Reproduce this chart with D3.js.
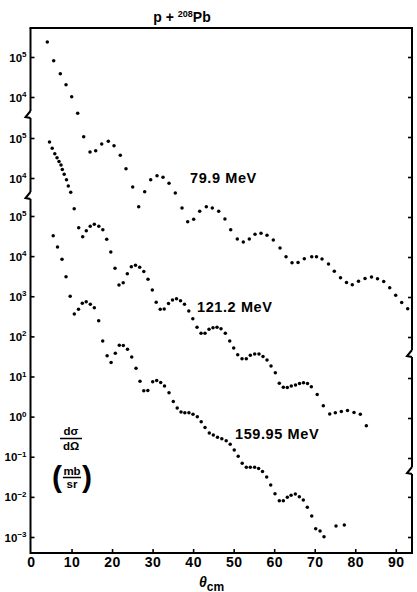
<!DOCTYPE html>
<html><head><meta charset="utf-8">
<script src="https://cdn.jsdelivr.net/npm/d3@7"></script>
<style>
body{margin:0;background:#fff}
svg{display:block}
text{font-family:"Liberation Sans",Arial,sans-serif;font-weight:bold;fill:#000}
</style>
</head><body>
<svg id="c" width="417" height="592"></svg>
<script>
// ---- data ----
const theta799 = [4.02,5.60,7.23,8.64,10.04,11.52,13.00,14.56,15.96,17.44,19.07,20.48,22.03,23.44,25.09,26.57,28.05,29.53,31.09,32.57,34.05,35.60,37.26,38.66,40.14,41.62,43.25,44.73,46.31,47.85,49.27,50.90,52.38,53.86,55.27,56.75,58.23,59.78,61.44,62.92,64.40,65.88,67.43,69.26,70.44,71.80,73.40,74.83,76.36,77.84,79.27,80.80,82.41,84.01,85.49,87.02,88.50,89.98,91.46,92.94];
const sigma799 = [2.37e5,8.08e4,3.82e4,2.03e4,1.02e4,3.91e3,1.02e3,422,455,668,781,606,349,161,56.2,18.1,42.9,85.6,108,98.3,69.6,39.8,16.8,7.63,8.76,13.9,18.1,16.8,13.9,8.91,4.81,2.82,2.37,2.82,3.69,3.91,3.49,2.66,1.68,1.02,0.72,0.729,0.907,1.02,1.01,0.891,0.668,0.439,0.302,0.230,0.203,0.248,0.290,0.316,0.287,0.244,0.170,0.110,0.0729,0.0510];

const theta1212 = [4.56,5.23,5.87,6.42,6.91,7.40,7.72,8.19,8.76,9.20,9.80,10.66,11.77,12.76,13.64,14.61,15.62,16.73,17.72,18.68,19.69,20.73,21.71,22.75,23.76,24.75,25.78,26.82,27.83,28.87,29.93,30.89,31.88,32.86,33.93,34.91,35.90,36.89,37.87,38.93,39.92,40.96,41.95,42.93,43.92,44.90,45.89,46.88,47.94,49.03,50.01,51.00,52.06,53.12,54.11,55.19,56.25,57.24,58.23,59.22,60.28,61.26,62.25,63.24,64.22,65.26,66.25,67.23,68.22,69.16,70.61,72.12,73.70,75.08,76.56,78.09,79.69,81.25,82.73];
const sigma1212 = [7.94e4,5.53e4,4.03e4,3.20e4,2.59e4,2.11e4,1.63e4,1.24e4,9.02e3,6.31e3,4.39e3,1.71e3,572,341,479,620,696,620,510,295,141,55.3,21.1,24.1,40.3,60.6,66.1,58.9,46.0,29.5,15.8,7.85,5.25,5.28,7.29,8.91,9.55,8.51,6.96,4.73,3.02,1.85,1.31,1.31,1.65,1.81,1.85,1.71,1.31,0.841,0.562,0.382,0.304,0.304,0.369,0.398,0.398,0.345,0.282,0.200,0.136,0.0737,0.0585,0.0579,0.0631,0.0668,0.0729,0.0759,0.0729,0.0603,0.0387,0.0202,0.0126,0.0136,0.0145,0.0154,0.0137,0.0124,0.00638];

const theta15995 = [5.48,6.54,7.65,8.64,9.67,10.68,11.72,12.66,13.62,14.63,15.62,16.70,17.69,18.78,19.76,20.80,21.79,22.78,23.81,24.85,25.91,26.89,27.83,28.82,30.03,31.01,32.00,32.94,34.05,35.11,36.07,37.01,37.95,38.96,39.97,41.03,41.99,42.93,43.99,44.98,46.01,47.08,48.16,49.15,50.14,51.12,52.11,53.12,54.11,55.17,56.16,57.12,58.15,59.14,60.20,61.26,62.25,63.24,64.17,65.21,66.20,67.18,68.17,69.26,70.24,71.31,72.29,75.25,77.30];
const sigma15995 = [3.21e4,1.69e4,8.33e3,3.05e3,1.00e3,361,473,667,727,630,518,246,76.7,32.8,22.3,37.9,60.3,59.3,47.9,30.6,16.1,7.64,4.40,4.50,7.42,7.90,7.09,5.80,3.93,2.38,1.64,1.30,1.25,1.25,1.15,0.990,0.747,0.536,0.391,0.348,0.305,0.280,0.251,0.204,0.147,0.103,0.0687,0.0546,0.0546,0.0546,0.0510,0.0429,0.0313,0.0198,0.0120,0.00803,0.00803,0.00976,0.01094,0.0118,0.0101,0.00836,0.00550,0.00334,0.00161,0.00141,0.00102,0.00188,0.00199];

const xTickValues = [0,10,20,30,40,50,60,70,80,90];
const leftTicksA = [1e5,1e4];
const leftTicksB = [1e5,1e4];
const leftTicksC = [1e5,1e4,1e3,1e2,1e1,1e0,1e-1,1e-2,1e-3];
const rightTicksA = [1e5,1e4,1e3,1e2,1e1,1e0,1e-1,1e-2];
const rightTicksB = [1e-1,1e-2,1e-3];
const rightTicksC = [1e-2,1e-3];
const energyLabels = ["79.9 MeV","121.2 MeV","159.95 MeV"];

// ---- layout ----
const svg = d3.select("#c");
const L = 30.5, R = 412, T = 28, B = 553;
const x = d3.scaleLinear().domain([0,94]).range([31,412]);
const yA = d3.scaleLog().domain([1e5,1e-2]).range([57,337]);
const yB = d3.scaleLog().domain([1e5,1e-3]).range([138,458]);
const yC = d3.scaleLog().domain([1e5,1e-3]).range([216,537]);

// frame with breaks
const lineStyle = s => s.attr("fill","none").attr("stroke","#000").attr("stroke-width",2).attr("stroke-linejoin","miter");
function vSeg(xx, y1, y2){ svg.append("path").attr("d",`M${xx},${y1}V${y2}`).call(lineStyle); }
function brk(xx, by){ svg.append("path").attr("d",`M${xx},${by-6}L${xx-5},${by}L${xx},${by+1}`).call(lineStyle); }
svg.append("path").attr("d",`M${L-1},${T}H${R+1}`).call(lineStyle);
svg.append("path").attr("d",`M${L},${B}H${R+1}`).call(lineStyle);
// left axis
vSeg(L, T, 111); brk(L, 117); vSeg(L, 118, 192); brk(L, 198); vSeg(L, 199, B+1);
// right axis
vSeg(R, T-1, 350); brk(R, 356); vSeg(R, 357, 467); brk(R, 473); vSeg(R, 474, B+1);

function expLabels(g){
  g.selectAll(".tick text").each(function(d){
    const t = d3.select(this); t.text("");
    t.append("tspan").attr("font-size",11.5).text("10");
    const e = Math.round(Math.log10(d));
    t.append("tspan").attr("font-size",8).attr("dy",-4.5).text(e<0 ? "\u2212"+(-e) : e);
  });
}
function leftAxis(scale, ticks){
  const g = svg.append("g").attr("transform",`translate(${L},0)`)
    .call(d3.axisLeft(scale).tickValues(ticks).tickSize(-4).tickPadding(4));
  g.select(".domain").remove();
  g.selectAll(".tick line").attr("stroke-width",1.6);
  g.selectAll(".tick text").attr("dy","0.4em");
  expLabels(g);
}
leftAxis(yA, leftTicksA); leftAxis(yB, leftTicksB); leftAxis(yC, leftTicksC);
function rightAxis(scale, ticks){
  const g = svg.append("g").attr("transform",`translate(${R},0)`)
    .call(d3.axisRight(scale).tickValues(ticks).tickSize(-4).tickFormat(""));
  g.select(".domain").remove();
  g.selectAll(".tick line").attr("stroke-width",1.6);
}
rightAxis(yA, rightTicksA); rightAxis(yB, rightTicksB); rightAxis(yC, rightTicksC);

const gx = svg.append("g").attr("transform",`translate(0,${B})`)
  .call(d3.axisBottom(x).tickValues(xTickValues).tickSize(-4).tickPadding(4));
gx.select(".domain").remove();
gx.selectAll(".tick line").attr("stroke-width",1.6);
gx.selectAll(".tick text").attr("font-size",14).attr("font-family","Liberation Sans, Arial, sans-serif").attr("font-weight","bold").attr("letter-spacing",0.5);
gx.selectAll(".tick").filter(d=>d===0).select("line").remove();

// data points
function dots(th, sg, y){
  svg.append("g").selectAll("circle").data(d3.zip(th, sg)).join("circle")
    .attr("cx", d=>x(d[0])).attr("cy", d=>y(d[1])).attr("r",1.75).attr("fill","#000");
}
dots(theta799, sigma799, yA);
dots(theta1212, sigma1212, yB);
dots(theta15995, sigma15995, yC);

// energy labels
const elPos = [[190,182.5],[197,311.5],[235,439]];
energyLabels.forEach((s,i)=>{
  svg.append("text").attr("x",elPos[i][0]).attr("y",elPos[i][1]).attr("font-size",14.5).attr("letter-spacing",0.6).text(s);
});

// title
const title = svg.append("text").attr("x",182).attr("y",22).attr("text-anchor","middle").attr("font-size",14);
title.append("tspan").text("p + ");
title.append("tspan").attr("font-size",9).attr("dy",-5).text("208");
title.append("tspan").attr("dy",5).text("Pb");

// x label
const xl = svg.append("text").attr("x",199).attr("y",586.5).attr("font-size",14);
xl.append("tspan").attr("font-style","italic").text("\u03b8");
xl.append("tspan").attr("font-size",12).attr("dy",4).text("cm");

// y label
svg.append("text").attr("x",71).attr("y",435).attr("text-anchor","middle").attr("font-size",11.5).text("d\u03c3");
svg.append("line").attr("x1",60).attr("x2",82).attr("y1",438.5).attr("y2",438.5).attr("stroke","#000").attr("stroke-width",1.5);
svg.append("text").attr("x",71).attr("y",450).attr("text-anchor","middle").attr("font-size",11.5).text("d\u03a9");
svg.append("text").attr("x",52).attr("y",487).attr("font-size",30).attr("font-weight","normal").text("(");
svg.append("text").attr("x",82).attr("y",487).attr("font-size",30).attr("font-weight","normal").text(")");
svg.append("text").attr("x",72).attr("y",475).attr("text-anchor","middle").attr("font-size",11.5).text("mb");
svg.append("line").attr("x1",63).attr("x2",81).attr("y1",477.5).attr("y2",477.5).attr("stroke","#000").attr("stroke-width",1.5);
svg.append("text").attr("x",72).attr("y",488).attr("text-anchor","middle").attr("font-size",11.5).text("sr");
</script>
</body></html>
